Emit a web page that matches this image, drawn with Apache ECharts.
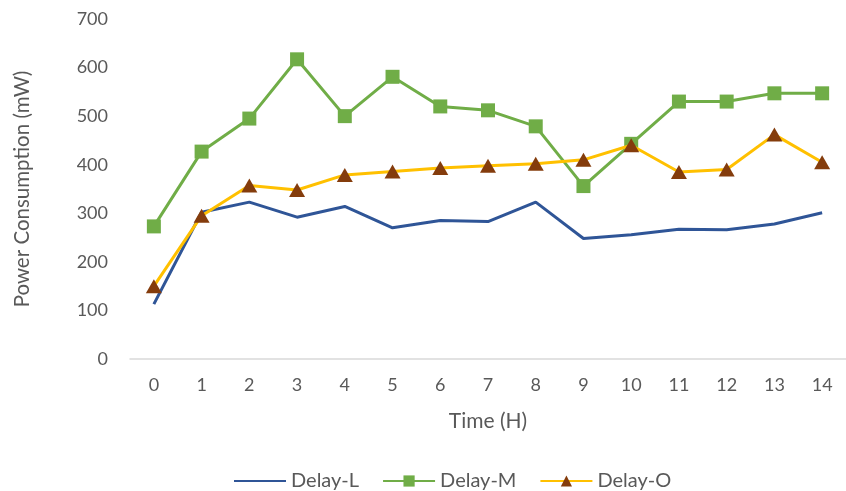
<!DOCTYPE html>
<html>
<head>
<meta charset="utf-8">
<script src="https://cdn.jsdelivr.net/npm/echarts@6/dist/echarts.min.js"></script>
<style>
  html, body { margin: 0; padding: 0; background: #fff; }
  #chart { width: 846px; height: 491px; }
</style>
</head>
<body>
<div id="chart"></div>
<script>
// Hours on the x axis
const hours = ['0', '1', '2', '3', '4', '5', '6', '7', '8', '9', '10', '11', '12', '13', '14'];

// Power consumption (mW) per delay profile
const delayL = [113, 302, 323, 292, 314, 270, 285, 283, 323, 248, 256, 267, 266, 278, 301];
const delayM = [273, 427, 495, 617, 500, 581, 520, 512, 479, 356, 443, 530, 530, 547, 547];
const delayO = [150, 295, 357, 348, 379, 386, 393, 398, 402, 410, 440, 385, 390, 462, 405];

const textColor = '#595959';
const fontFamily = 'Lato, "Open Sans", sans-serif';

const chart = echarts.init(document.getElementById('chart'));
chart.setOption({
  animation: false,
  textStyle: { fontFamily: fontFamily, color: textColor },
  grid: { left: 130, right: -3, top: 19, bottom: 132 },
  xAxis: {
    type: 'category',
    data: hours,
    boundaryGap: true,
    name: 'Time (H)',
    nameLocation: 'middle',
    nameGap: 52,
    nameTextStyle: { fontSize: 21, color: textColor, fontFamily: fontFamily },
    axisLine: { lineStyle: { color: '#D9D9D9', width: 1.5 } },
    axisTick: { show: false },
    axisLabel: { fontSize: 18, color: textColor, margin: 17 }
  },
  yAxis: {
    type: 'value',
    min: 0,
    max: 700,
    interval: 100,
    name: 'Power Consumption (mW)',
    nameLocation: 'middle',
    nameGap: 97,
    nameTextStyle: { fontSize: 20.5, color: textColor, fontFamily: fontFamily },
    axisLine: { show: false },
    axisTick: { show: false },
    splitLine: { show: false },
    axisLabel: { fontSize: 18, color: textColor, margin: 22 }
  },
  legend: {
    top: 466,
    left: 228,
    itemWidth: 52,
    itemHeight: 14,
    itemGap: 23,
    textStyle: { fontSize: 20, color: textColor, fontFamily: fontFamily },
    data: [
      { name: 'Delay-L', itemStyle: { opacity: 0 } },
      'Delay-M',
      'Delay-O'
    ]
  },
  series: [
    {
      name: 'Delay-L',
      type: 'line',
      data: delayL,
      symbol: 'none',
      lineStyle: { color: '#2F5597', width: 3 },
      itemStyle: { color: '#2F5597' },
      z: 2
    },
    {
      name: 'Delay-M',
      type: 'line',
      data: delayM,
      symbol: 'rect',
      symbolSize: 14,
      lineStyle: { color: '#70AD47', width: 3 },
      itemStyle: { color: '#70AD47' },
      z: 3
    },
    {
      name: 'Delay-O',
      type: 'line',
      data: delayO,
      symbol: 'triangle',
      symbolSize: [16, 14],
      lineStyle: { color: '#FFC000', width: 3 },
      itemStyle: { color: '#843C0C' },
      z: 4
    }
  ]
});
</script>
</body>
</html>
